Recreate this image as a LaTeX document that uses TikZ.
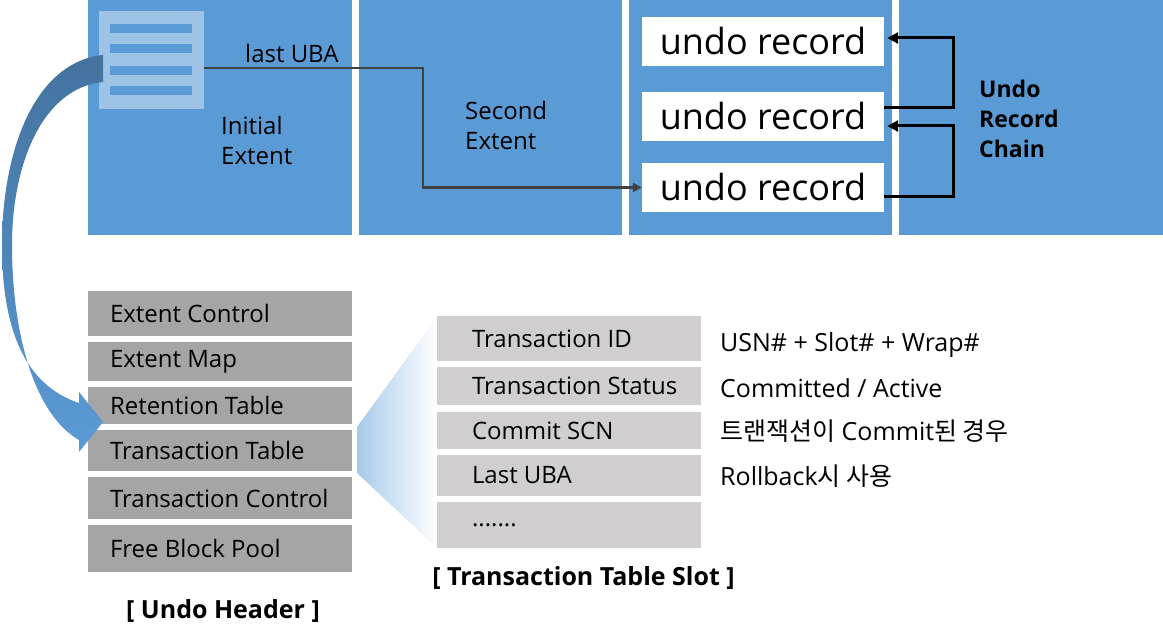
\documentclass[tikz,border=0pt]{standalone}
\usepackage{fontspec}
\setmainfont{Open Sans}
\newfontfamily\kr{Noto Sans CJK KR}
\usetikzlibrary{arrows.meta}

\definecolor{panelblue}{HTML}{5B9BD5}
\definecolor{iconblue}{HTML}{9DC3E6}
\definecolor{darkblue}{HTML}{44729F}
\definecolor{hdrgray}{HTML}{A5A5A5}
\definecolor{slotgray}{HTML}{D0CECE}
\definecolor{fanblue}{HTML}{A7CAEA}
\definecolor{ubagray}{HTML}{404040}

\begin{document}
\begin{tikzpicture}[x=1pt,y=-1pt,
    hdrbox/.style={fill=hdrgray,minimum width=264pt,inner sep=0},
    slotbox/.style={fill=slotgray,minimum width=264pt,inner sep=0},
    hdrtext/.style={anchor=west,xshift=22pt,inner sep=0,font=\fontsize{24}{24}\selectfont},
    slottext/.style={anchor=west,xshift=35pt,inner sep=0,font=\fontsize{24}{24}\selectfont}]
  \useasboundingbox (0,0) rectangle (1163,639);

  % extents
  \begin{scope}[every node/.style={fill=panelblue,minimum height=235pt,inner sep=0}]
    \node (initial) at (220,117.5)  [minimum width=264pt] {};
    \node (second)  at (490.5,117.5) [minimum width=263pt] {};
    \node (third)   at (760.5,117.5) [minimum width=263pt] {};
    \node (fourth)  at (1031,117.5) [minimum width=264pt] {};
  \end{scope}

  % header block icon
  \node (icon) at (151,60) [fill=iconblue,minimum width=105pt,minimum height=98pt,inner sep=0] {};
  \foreach \y in {29,49,71,91}
    \fill[panelblue] (110,\y-4.5) rectangle (192,\y+4.5);

  % undo records
  \begin{scope}[every node/.style={fill=white,minimum width=242pt,minimum height=49pt,
      inner sep=0,font=\fontsize{36}{36}\selectfont}]
    \node (rec1) at (763,41.5)  {undo record};
    \node (rec2) at (763,116.5) {undo record};
    \node (rec3) at (763,187.5) {undo record};
  \end{scope}

  \coordinate (ubaturn) at (423,128);
  \draw[ubagray,line width=2.5pt,-{Triangle[length=9pt,width=9pt]}]
    ([yshift=-8pt]icon.east) -| (ubaturn) |- (rec3.west);

  \begin{scope}[every path/.style={draw,line width=3pt,-{Triangle[length=11pt,width=11pt]}}]
    \path ([yshift=8.5pt]rec2.east) -- ++(69,0) |- ([xshift=3pt,yshift=3.5pt]rec1.east);
    \path ([yshift=-9.5pt]rec3.east) -- ++(69,0) |- ([xshift=3pt,yshift=-9.5pt]rec2.east);
  \end{scope}

  \begin{scope}[every node/.style={font=\fontsize{24}{30}\selectfont,align=left,inner sep=0}]
    \node (ubalabel) [anchor=base west] at (245,63) {last UBA};
    \node (initlabel) [anchor=west] at (221,141) {Initial\\Extent};
    \node (secondlabel) [anchor=west] at (465,126) {Second\\Extent};
    \node (chainlabel) [anchor=west,font=\fontsize{23}{30}\selectfont\bfseries] at (979,118.5) {Undo\\Record\\Chain};
  \end{scope}

  % fan from transaction table to its slot
  \shade[left color=fanblue,right color=white]
    (357,427) -- (437,317) -- (437,548) -- (357,473) -- cycle;

  % undo header
  \node (extctl)   at (220,313.5) [hdrbox,minimum height=45pt,label={[hdrtext]west:Extent Control}] {};
  \node (extmap)   at (220,361.5) [hdrbox,minimum height=39pt,label={[hdrtext]west:Extent Map}] {};
  \node (rettab)   at (220,405.5) [hdrbox,minimum height=37pt,label={[hdrtext]west:Retention Table}] {};
  \node (trntab)   at (220,450.5) [hdrbox,minimum height=41pt,label={[hdrtext]west:Transaction Table}] {};
  \node (trnctl)   at (220,498)   [hdrbox,minimum height=42pt,label={[hdrtext]west:Transaction Control}] {};
  \node (freepool) at (220,548.5) [hdrbox,minimum height=47pt,label={[hdrtext]west:Free Block Pool}] {};

  % big arrow to the transaction table
  \shade[top color=darkblue,bottom color=panelblue]
    (103,55) .. controls (35,62) and (2,150) .. (2,245)
    .. controls (2,330) and (25,385) .. (79,403)
    -- (79,392) -- (103,422) -- (79,452) -- (79,440)
    .. controls (35,415) and (12,335) .. (12,245)
    .. controls (12,165) and (42,88) .. (103,82) -- cycle;

  % transaction table slot
  \node (trnid)   at (569,338.5) [slotbox,minimum height=45pt,label={[slottext]west:Transaction ID}] {};
  \node (trnstat) at (569,386)   [slotbox,minimum height=38pt,label={[slottext]west:Transaction Status}] {};
  \node (cmtscn)  at (569,430.5) [slotbox,minimum height=37pt,label={[slottext]west:Commit SCN}] {};
  \node (lastuba) at (569,475.5) [slotbox,minimum height=41pt,label={[slottext]west:Last UBA}] {};
  \node (more)    at (569,525)   [slotbox,minimum height=46pt,label={[slottext]west:.......}] {};

  \begin{scope}[every node/.style={font=\fontsize{25}{25}\selectfont,anchor=base west,inner sep=0}]
    \node (idnote)   at (720,352) {USN\# + Slot\# + Wrap\#};
    \node (statnote) at (720,397) {Committed / Active};
    \node (scnnote)  at (720,440) {{\kr 트랜잭션이} Commit{\kr 된 경우}};
    \node (ubanote)  at (720,485) {Rollback{\kr 시 사용}};
  \end{scope}

  \begin{scope}[every node/.style={font=\fontsize{25}{25}\selectfont\bfseries,anchor=base,inner sep=0}]
    \node (hdrcap)  at (223,618) {[ Undo Header ]};
    \node (slotcap) at (583.5,585) {[ Transaction Table Slot ]};
  \end{scope}

\end{tikzpicture}
\end{document}
